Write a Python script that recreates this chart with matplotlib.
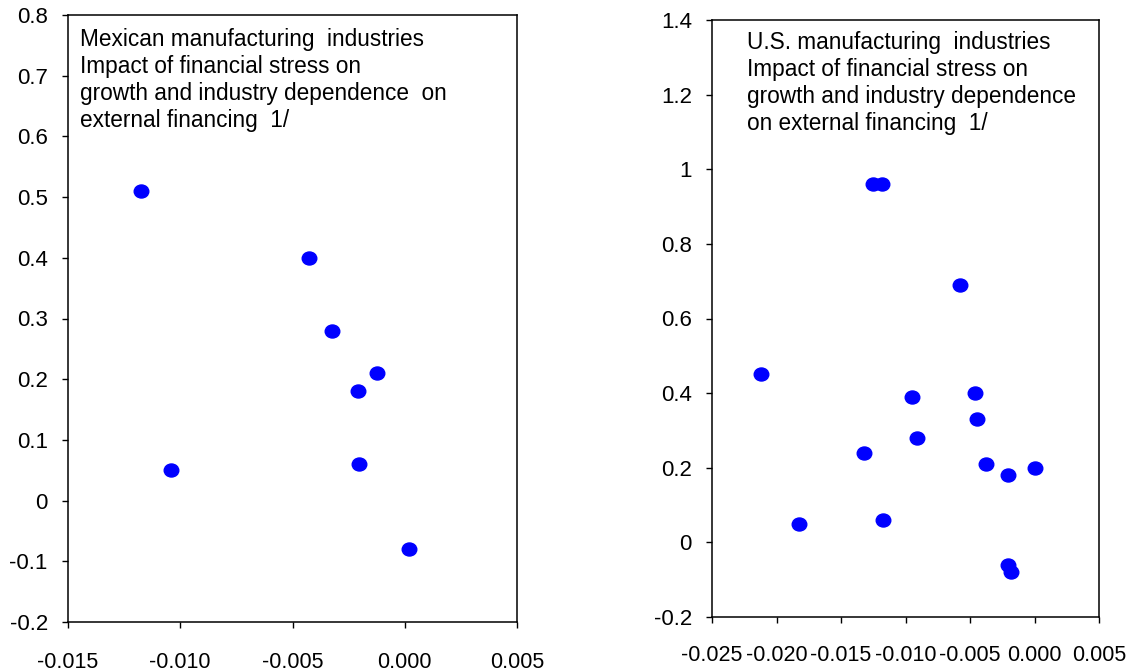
import numpy as np
import matplotlib
matplotlib.use('Agg')
import matplotlib.pyplot as plt
from matplotlib.path import Path
from matplotlib.transforms import Affine2D

plt.rcParams['font.family'] = ['Liberation Sans', 'DejaVu Sans']

# Mexico panel
mex_x = [-0.01175, -0.01043, -0.00428, -0.00323, -0.00124, -0.00210, -0.00202, 0.00019]
mex_y = [0.51, 0.05, 0.40, 0.28, 0.21, 0.18, 0.06, -0.08]
mex_xticks = [-0.015, -0.010, -0.005, 0.000, 0.005]
mex_xlabels = ['-0.015', '-0.010', '-0.005', '0.000', '0.005']
mex_yticks = [0.8, 0.7, 0.6, 0.5, 0.4, 0.3, 0.2, 0.1, 0.0, -0.1, -0.2]
mex_ylabels = ['0.8', '0.7', '0.6', '0.5', '0.4', '0.3', '0.2', '0.1', '0', '-0.1', '-0.2']
mex_title = ('Mexican manufacturing  industries\n'
             'Impact of financial stress on\n'
             'growth and industry dependence  on\n'
             'external financing  1/')

# U.S. panel
us_x = [-0.0212, -0.01822, -0.01253, -0.01183, -0.0132, -0.01178, -0.00947, -0.00914,
        -0.0058, -0.0046, -0.00445, -0.00373, -0.00204, 0.00005, -0.00204, -0.00181]
us_y = [0.45, 0.05, 0.96, 0.96, 0.24, 0.06, 0.39, 0.28,
        0.69, 0.40, 0.33, 0.21, 0.18, 0.20, -0.06, -0.08]
us_xticks = [-0.025, -0.020, -0.015, -0.010, -0.005, 0.000, 0.005]
us_xlabels = ['-0.025', '-0.020', '-0.015', '-0.010', '-0.005', '0.000', '0.005']
us_yticks = [1.4, 1.2, 1.0, 0.8, 0.6, 0.4, 0.2, 0.0, -0.2]
us_ylabels = ['1.4', '1.2', '1', '0.8', '0.6', '0.4', '0.2', '0', '-0.2']
us_title = ('U.S. manufacturing  industries\n'
            'Impact of financial stress on\n'
            'growth and industry dependence\n'
            'on external financing  1/')

# slightly wide ellipse marker
ellipse = Path.unit_circle().transformed(Affine2D().scale(1.12, 1.0))

fig = plt.figure(figsize=(11.33, 6.72), dpi=100)
W, H = 1133, 672

def px_axes(x0, y0, x1, y1):
  return fig.add_axes([x0 / W, (H - y1) / H, (x1 - x0) / W, (y1 - y0) / H])

def style(ax, xticks, xlabels, yticks, ylabels, xpad, ypad):
  ax.set_xticks(xticks)
  ax.set_xticklabels(xlabels, fontsize=15.5)
  ax.set_yticks(yticks)
  ax.set_yticklabels(ylabels, fontsize=16)
  ax.tick_params(axis='x', which='major', direction='out', length=4.5, width=1, pad=xpad)
  ax.tick_params(axis='y', which='major', direction='out', length=4.5, width=1, pad=ypad)
  [sp.set_linewidth(1.1) for sp in ax.spines.values()]

ax1 = px_axes(68, 15, 517, 622)
ax1.plot(mex_x, mex_y, linestyle='none', marker=ellipse, markersize=10.5, color='#0000ff')
ax1.set_xlim(-0.015, 0.005)
ax1.set_ylim(-0.2, 0.8)
style(ax1, mex_xticks, mex_xlabels, mex_yticks, mex_ylabels, 17, 10)
ax1.text(0.027, 0.979, mex_title, transform=ax1.transAxes, ha='left', va='top',
         fontsize=16.3, linespacing=1.23)

ax2 = px_axes(712, 20, 1099, 617)
ax2.plot(us_x, us_y, linestyle='none', marker=ellipse, markersize=10.5, color='#0000ff')
ax2.set_xlim(-0.025, 0.005)
ax2.set_ylim(-0.2, 1.4)
style(ax2, us_xticks, us_xlabels, us_yticks, us_ylabels, 16, 10)
ax2.text(0.090, 0.982, us_title, transform=ax2.transAxes, ha='left', va='top',
         fontsize=16.3, linespacing=1.23)

fig.savefig('out.png', dpi=100)
